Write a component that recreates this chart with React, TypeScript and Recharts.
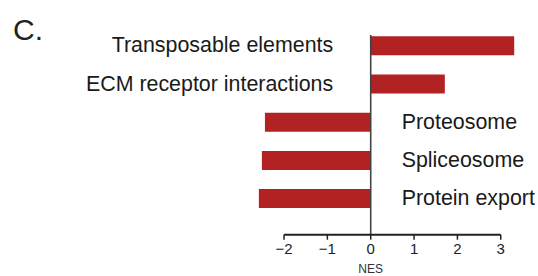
import React from 'react';
import { BarChart, Bar, XAxis, YAxis, ReferenceLine, LabelList } from 'recharts';

const categories = [
  'Transposable elements',
  'ECM receptor interactions',
  'Proteosome',
  'Spliceosome',
  'Protein export',
];
const nesValues = [3.31, 1.71, -2.44, -2.51, -2.58];
const xTicks = [-2, -1, 0, 1, 2, 3];
const xDomain: [number, number] = [-2.6, 3.4];

const data = categories.map((name, i) => ({ name, nes: nesValues[i] }));

const W = 538;
const H = 276;
const FONT = '"Liberation Sans", Arial, Helvetica, sans-serif';
const margin = { top: 26.3, right: 19.9, bottom: 11.3, left: 258 };

const plotW = W - margin.left - margin.right;
const pxPerUnit = plotW / (xDomain[1] - xDomain[0]);
const axisGap = (xTicks[0] - xDomain[0]) * pxPerUnit;
const axisLen = (xTicks[xTicks.length - 1] - xTicks[0]) * pxPerUnit;

const fmt = (v: number) => (v < 0 ? '\u2212' + Math.abs(v) : String(v));

const renderLabel = (props: any) => {
  const { x, y, width, height, index, value } = props;
  const v = nesValues[index] ?? 0;
  const x0 = Number(x);
  const w = Number(width);
  const zeroX = v >= 0 ? Math.min(x0, x0 + w) : Math.max(x0, x0 + w);
  const cy = Number(y) + Number(height) / 2;
  const positive = v >= 0;
  return (
    <text
      x={positive ? zeroX - 37.5 : zeroX + 31}
      y={cy}
      dy="0.31em"
      textAnchor={positive ? 'end' : 'start'}
      fontSize={21.4}
      fontFamily={FONT}
      fill="#1a1a1a"
    >
      {value}
    </text>
  );
};

const zeroLine = (p: any) => (
  <line
    x1={p.x1}
    x2={p.x2}
    y1={Math.min(p.y1, p.y2) + 8.7}
    y2={Math.max(p.y1, p.y2)}
    stroke="#444"
    strokeWidth={1.6}
  />
);

export default function App() {
  return (
    <div style={{ position: 'absolute', left: 0, top: 0, width: W, height: H, background: '#fff' }}>
      <BarChart
        width={W}
        height={H}
        data={data}
        layout="vertical"
        margin={margin}
      >
        <XAxis
          type="number"
          domain={xDomain}
          ticks={xTicks}
          tickFormatter={fmt}
          height={30}
          tickSize={5}
          tickMargin={4}
          axisLine={{ stroke: '#222', strokeWidth: 2, strokeDasharray: `0 ${axisGap} ${axisLen} 2000` }}
          tickLine={{ stroke: '#222', strokeWidth: 1.5 }}
          tick={{ fontSize: 15, fill: '#222', fontFamily: FONT }}
          interval={0}
        />
        <YAxis
          type="category"
          dataKey="name"
          hide
          padding={{ top: 0, bottom: 17.4 }}
        />
        <Bar dataKey="nes" fill="#B22222" barSize={19} isAnimationActive={false}>
          <LabelList dataKey="name" content={renderLabel} />
        </Bar>
        <ReferenceLine
          x={0}
          shape={zeroLine}
          label={{ value: 'NES', position: 'bottom', offset: 30, fill: '#333', fontSize: 12, fontFamily: FONT }}
        />
      </BarChart>
      <svg
        width={W}
        height={H}
        style={{ position: 'absolute', left: 0, top: 0, pointerEvents: 'none' }}
      >
        <text x={13} y={39.5} fontSize={30} fontFamily={FONT} fill="#222">
          C.
        </text>
      </svg>
    </div>
  );
}
